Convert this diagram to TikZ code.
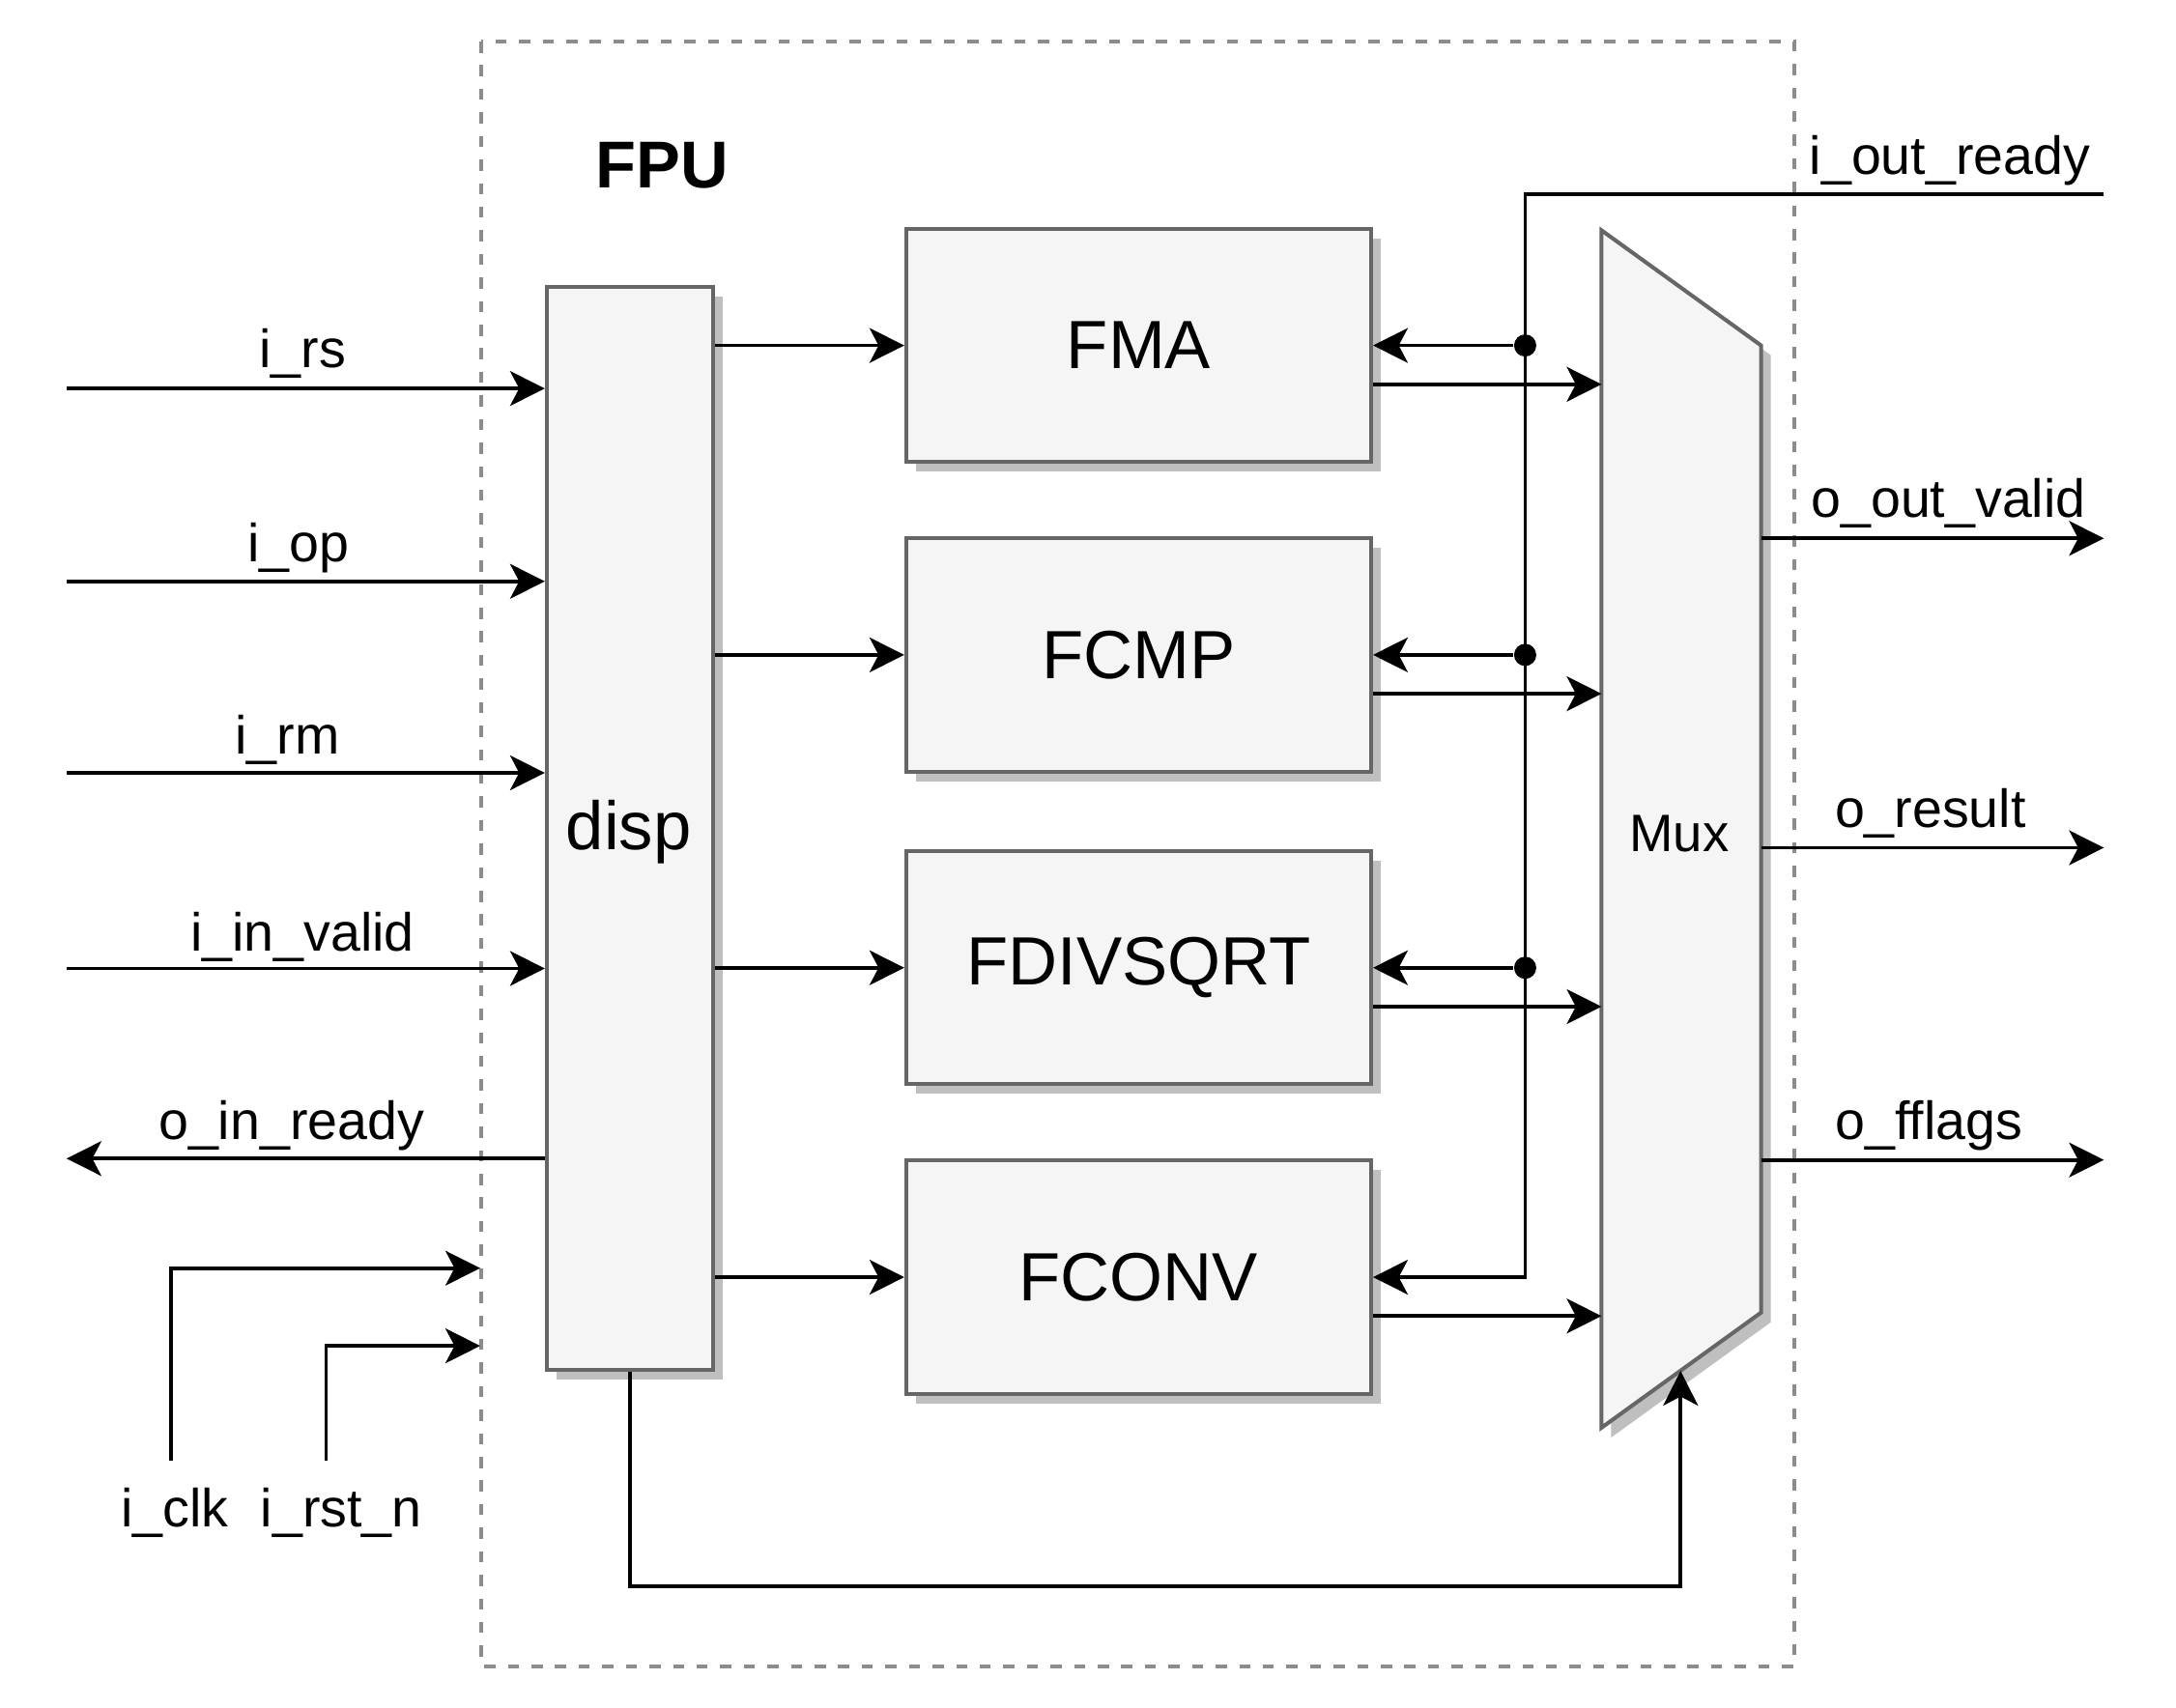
\documentclass[tikz,border=0pt]{standalone}
\usepackage{fontspec}
\setmainfont{Liberation Sans}
\usetikzlibrary{arrows.meta,shadows}

\tikzset{
  blk/.style={draw=black!60, fill=black!4, line width=0.8pt, inner sep=0pt,
    drop shadow={shadow xshift=0.07cm, shadow yshift=-0.07cm, fill=black!25, opacity=1}},
  unit/.style={blk, minimum width=3.35cm, minimum height=1.68cm, font=\fontsize{14}{16}\selectfont},
  sig/.style={line width=0.75pt, -{Stealth[length=0.25cm,width=0.25cm,inset=0.065cm]}},
  lbl/.style={font=\fontsize{11}{13}\selectfont, inner sep=0pt},
  tap/.style={circle, fill, inner sep=0pt, minimum size=0.16cm},
  frame/.style={draw=black!45, line width=0.8pt, dash pattern=on 0.08cm off 0.09cm},
}

\begin{document}
\begin{tikzpicture}
  \useasboundingbox (0,0) rectangle (15.68,-12.31);
  \draw[frame] (3.47,-0.30) rectangle (12.93,-12.01);
  \node[font=\fontsize{13.6}{16}\selectfont\bfseries] (fpu) at (4.77,-1.19) {FPU};

  \node[blk, minimum width=1.20cm, minimum height=7.80cm] (disp) at (4.54,-5.97) {};
  \node[lbl, font=\fontsize{14}{16}\selectfont] (displ) at (4.53,-6.00) {disp};
  \node[unit] (fma) at (8.205,-2.49) {FMA};
  \node[unit] (fcmp) at (8.205,-4.72) {FCMP};
  \node[unit] (fdiv) at (8.205,-6.975) {FDIVSQRT};
  \node[unit] (fconv) at (8.205,-9.205) {FCONV};

  \coordinate (muxtl) at (11.54,-1.66);
  \coordinate (muxtr) at (12.69,-2.49);
  \coordinate (muxbr) at (12.69,-9.46);
  \coordinate (muxbl) at (11.54,-10.29);
  \draw[blk] (muxtl) -- (muxtr) -- (muxbr) -- (muxbl) -- cycle;
  \node[lbl, font=\fontsize{10.8}{13}\selectfont] (mux) at (12.10,-6.01) {Mux};

  \coordinate (rs) at (0.48,-2.80);
  \coordinate (op) at (0.48,-4.19);
  \coordinate (rm) at (0.48,-5.57);
  \coordinate (iv) at (0.48,-6.98);
  \coordinate (ir) at (0.48,-8.35);
  \draw[sig] (rs) -- (rs -| disp.west);
  \draw[sig] (op) -- (op -| disp.west);
  \draw[sig] (rm) -- (rm -| disp.west);
  \draw[sig] (iv) -- (iv -| disp.west);
  \draw[sig] (ir -| disp.west) -- (ir);
  \node[lbl] (lrs) at (2.18,-2.55) {i\_rs};
  \node[lbl] (lop) at (2.15,-3.95) {i\_op};
  \node[lbl] (lrm) at (2.07,-5.33) {i\_rm};
  \node[lbl] (liv) at (2.18,-6.75) {i\_in\_valid};
  \node[lbl] (lir) at (2.10,-8.11) {o\_in\_ready};

  \coordinate (clk) at (1.23,-10.53);
  \coordinate (rst) at (2.35,-10.53);
  \coordinate (clkin) at (3.46,-9.14);
  \coordinate (rstin) at (3.46,-9.70);
  \draw[sig] (clk) |- (clkin);
  \draw[sig] (rst) |- (rstin);
  \node[lbl] (lclk) at (1.26,-10.90) {i\_clk};
  \node[lbl] (lrst) at (2.46,-10.90) {i\_rst\_n};

  \draw[sig] (disp.east |- fma.west) -- (fma.west);
  \draw[sig] (disp.east |- fcmp.west) -- (fcmp.west);
  \draw[sig] (disp.east |- fdiv.west) -- (fdiv.west);
  \draw[sig] (disp.east |- fconv.west) -- (fconv.west);

  \draw[sig] ([yshift=-0.28cm]fma.east) -- ([yshift=-0.28cm]fma.east -| muxtl);
  \draw[sig] ([yshift=-0.28cm]fcmp.east) -- ([yshift=-0.28cm]fcmp.east -| muxtl);
  \draw[sig] ([yshift=-0.28cm]fdiv.east) -- ([yshift=-0.28cm]fdiv.east -| muxtl);
  \draw[sig] ([yshift=-0.28cm]fconv.east) -- ([yshift=-0.28cm]fconv.east -| muxtl);

  \coordinate (rdy) at (15.16,-1.40);
  \node[tap] (tfma) at (10.99,-2.49) {};
  \node[tap] (tfcmp) at (10.99,-4.72) {};
  \node[tap] (tfdiv) at (10.99,-6.975) {};
  \draw[sig] (rdy) -| (tfma.center) |- (fconv.east);
  \draw[sig] (tfma) -- (fma.east);
  \draw[sig] (tfcmp) -- (fcmp.east);
  \draw[sig] (tfdiv) -- (fdiv.east);
  \node[lbl] (lrdy) at (14.05,-1.16) {i\_out\_ready};

  \coordinate (ov) at (15.16,-3.88);
  \coordinate (res) at (15.16,-6.11);
  \coordinate (ff) at (15.16,-8.36);
  \draw[sig] (ov -| muxtr) -- (ov);
  \draw[sig] (res -| muxtr) -- (res);
  \draw[sig] (ff -| muxtr) -- (ff);
  \node[lbl] (lov) at (14.04,-3.63) {o\_out\_valid};
  \node[lbl] (lres) at (13.91,-5.86) {o\_result};
  \node[lbl] (lff) at (13.90,-8.11) {o\_fflags};

  \coordinate (sel) at (12.11,-9.88);
  \draw[sig] (disp.south) -- ++(0,-1.55) -| (sel);
\end{tikzpicture}
\end{document}
